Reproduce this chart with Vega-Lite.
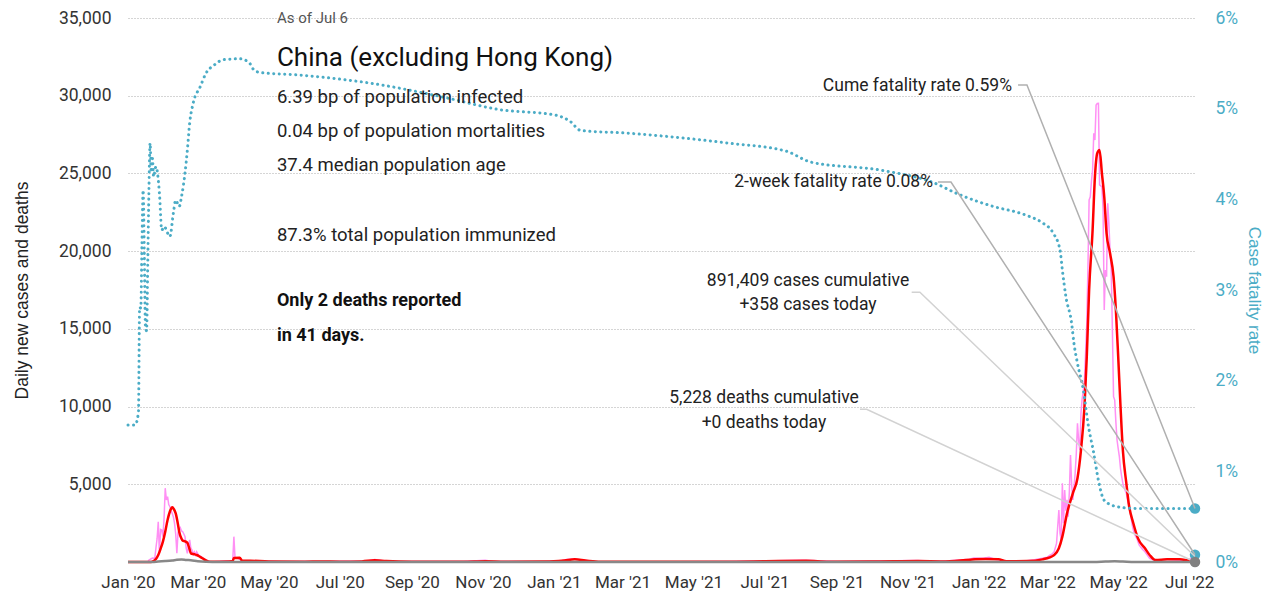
{
  "$schema": "https://vega.github.io/schema/vega-lite/v6.json",
  "width": 1067,
  "height": 544,
  "autosize": {"type": "none"},
  "padding": {"left": 128, "top": 18, "right": 76, "bottom": 41},
  "background": "white",
  "config": {
    "view": {"stroke": null},
    "font": "Roboto",
    "text": {"font": "Roboto"}
  },
  "datasets": {
    "daily": [
      {"date": "2020-01-01", "v": 0}, {"date": "2020-01-18", "v": 0}, {"date": "2020-01-19", "v": 130},
      {"date": "2020-01-22", "v": 250}, {"date": "2020-01-24", "v": 240}, {"date": "2020-01-25", "v": 900},
      {"date": "2020-01-26", "v": 1500}, {"date": "2020-01-27", "v": 2590}, {"date": "2020-01-28", "v": 560},
      {"date": "2020-01-29", "v": 2100}, {"date": "2020-01-30", "v": 2060}, {"date": "2020-01-31", "v": 1630},
      {"date": "2020-02-01", "v": 2800}, {"date": "2020-02-02", "v": 4750}, {"date": "2020-02-03", "v": 3990},
      {"date": "2020-02-04", "v": 4200}, {"date": "2020-02-05", "v": 3700}, {"date": "2020-02-06", "v": 3560},
      {"date": "2020-02-07", "v": 3300}, {"date": "2020-02-08", "v": 3130}, {"date": "2020-02-09", "v": 2900},
      {"date": "2020-02-10", "v": 2490}, {"date": "2020-02-11", "v": 1800}, {"date": "2020-02-12", "v": 560},
      {"date": "2020-02-13", "v": 1900}, {"date": "2020-02-14", "v": 2060}, {"date": "2020-02-15", "v": 2200},
      {"date": "2020-02-16", "v": 2000}, {"date": "2020-02-17", "v": 1950}, {"date": "2020-02-18", "v": 1800},
      {"date": "2020-02-19", "v": 1630}, {"date": "2020-02-20", "v": 900}, {"date": "2020-02-21", "v": 560},
      {"date": "2020-02-22", "v": 1100}, {"date": "2020-02-23", "v": 1420}, {"date": "2020-02-24", "v": 900},
      {"date": "2020-02-25", "v": 770}, {"date": "2020-02-26", "v": 500}, {"date": "2020-02-27", "v": 650},
      {"date": "2020-02-28", "v": 450}, {"date": "2020-02-29", "v": 660}, {"date": "2020-03-02", "v": 400},
      {"date": "2020-03-04", "v": 340}, {"date": "2020-03-06", "v": 200}, {"date": "2020-03-08", "v": 130},
      {"date": "2020-03-11", "v": 40}, {"date": "2020-03-15", "v": 20}, {"date": "2020-03-25", "v": 60},
      {"date": "2020-03-31", "v": 60}, {"date": "2020-04-01", "v": 1630}, {"date": "2020-04-02", "v": 240},
      {"date": "2020-04-04", "v": 250}, {"date": "2020-04-06", "v": 170}, {"date": "2020-04-08", "v": 80},
      {"date": "2020-04-20", "v": 60}, {"date": "2020-05-10", "v": 30}, {"date": "2020-06-14", "v": 40},
      {"date": "2020-07-25", "v": 60}, {"date": "2020-07-31", "v": 160}, {"date": "2020-08-06", "v": 90},
      {"date": "2020-08-20", "v": 30}, {"date": "2020-10-15", "v": 25}, {"date": "2020-11-03", "v": 120},
      {"date": "2020-11-10", "v": 40}, {"date": "2020-12-25", "v": 40}, {"date": "2021-01-08", "v": 90},
      {"date": "2021-01-13", "v": 180}, {"date": "2021-01-18", "v": 200}, {"date": "2021-01-24", "v": 150},
      {"date": "2021-02-05", "v": 40}, {"date": "2021-04-15", "v": 20}, {"date": "2021-06-01", "v": 30},
      {"date": "2021-08-03", "v": 110}, {"date": "2021-08-10", "v": 90}, {"date": "2021-09-01", "v": 30},
      {"date": "2021-11-08", "v": 90}, {"date": "2021-12-01", "v": 50}, {"date": "2021-12-24", "v": 180},
      {"date": "2021-12-28", "v": 250}, {"date": "2022-01-05", "v": 240}, {"date": "2022-01-10", "v": 300},
      {"date": "2022-01-15", "v": 180}, {"date": "2022-01-25", "v": 60}, {"date": "2022-02-10", "v": 70},
      {"date": "2022-02-18", "v": 140}, {"date": "2022-02-25", "v": 250}, {"date": "2022-03-01", "v": 300},
      {"date": "2022-03-03", "v": 420}, {"date": "2022-03-05", "v": 500}, {"date": "2022-03-07", "v": 660},
      {"date": "2022-03-09", "v": 1200}, {"date": "2022-03-11", "v": 3350}, {"date": "2022-03-12", "v": 1850},
      {"date": "2022-03-13", "v": 1400}, {"date": "2022-03-14", "v": 5060}, {"date": "2022-03-15", "v": 2500},
      {"date": "2022-03-16", "v": 4630}, {"date": "2022-03-17", "v": 3300}, {"date": "2022-03-18", "v": 4000},
      {"date": "2022-03-19", "v": 2920}, {"date": "2022-03-20", "v": 4500}, {"date": "2022-03-21", "v": 6880},
      {"date": "2022-03-22", "v": 5000}, {"date": "2022-03-23", "v": 3990}, {"date": "2022-03-24", "v": 4800},
      {"date": "2022-03-25", "v": 5710}, {"date": "2022-03-26", "v": 7000}, {"date": "2022-03-27", "v": 8920},
      {"date": "2022-03-28", "v": 7800}, {"date": "2022-03-29", "v": 7200}, {"date": "2022-03-30", "v": 9570},
      {"date": "2022-03-31", "v": 10500}, {"date": "2022-04-01", "v": 11000}, {"date": "2022-04-02", "v": 11710},
      {"date": "2022-04-03", "v": 13500}, {"date": "2022-04-04", "v": 15360}, {"date": "2022-04-05", "v": 19000},
      {"date": "2022-04-06", "v": 23290}, {"date": "2022-04-07", "v": 23500}, {"date": "2022-04-08", "v": 24500},
      {"date": "2022-04-09", "v": 25220}, {"date": "2022-04-10", "v": 27580}, {"date": "2022-04-11", "v": 27150},
      {"date": "2022-04-12", "v": 29400}, {"date": "2022-04-13", "v": 29500}, {"date": "2022-04-14", "v": 29510},
      {"date": "2022-04-15", "v": 24260}, {"date": "2022-04-16", "v": 24200}, {"date": "2022-04-17", "v": 24150},
      {"date": "2022-04-18", "v": 22650}, {"date": "2022-04-19", "v": 16210}, {"date": "2022-04-20", "v": 18790},
      {"date": "2022-04-21", "v": 18360}, {"date": "2022-04-22", "v": 23080}, {"date": "2022-04-23", "v": 21790},
      {"date": "2022-04-24", "v": 20000}, {"date": "2022-04-25", "v": 18790}, {"date": "2022-04-26", "v": 14930},
      {"date": "2022-04-27", "v": 10640}, {"date": "2022-04-28", "v": 10420}, {"date": "2022-04-29", "v": 9000},
      {"date": "2022-04-30", "v": 7850}, {"date": "2022-05-01", "v": 7300}, {"date": "2022-05-02", "v": 6780},
      {"date": "2022-05-03", "v": 6000}, {"date": "2022-05-04", "v": 5500}, {"date": "2022-05-05", "v": 5060},
      {"date": "2022-05-06", "v": 4800}, {"date": "2022-05-07", "v": 4600}, {"date": "2022-05-08", "v": 4420},
      {"date": "2022-05-09", "v": 4000}, {"date": "2022-05-10", "v": 3700}, {"date": "2022-05-11", "v": 3350},
      {"date": "2022-05-12", "v": 2900}, {"date": "2022-05-13", "v": 2400}, {"date": "2022-05-14", "v": 2060},
      {"date": "2022-05-15", "v": 1800}, {"date": "2022-05-16", "v": 1650}, {"date": "2022-05-17", "v": 1520},
      {"date": "2022-05-18", "v": 1300}, {"date": "2022-05-19", "v": 1100}, {"date": "2022-05-20", "v": 990},
      {"date": "2022-05-22", "v": 800}, {"date": "2022-05-24", "v": 660}, {"date": "2022-05-26", "v": 450},
      {"date": "2022-05-28", "v": 240}, {"date": "2022-05-31", "v": 150}, {"date": "2022-06-05", "v": 120},
      {"date": "2022-06-10", "v": 180}, {"date": "2022-06-15", "v": 150}, {"date": "2022-06-20", "v": 130},
      {"date": "2022-06-25", "v": 110}, {"date": "2022-06-30", "v": 150}, {"date": "2022-07-03", "v": 250},
      {"date": "2022-07-05", "v": 400}, {"date": "2022-07-06", "v": 358}
    ],
    "avg": [
      {"date": "2020-01-01", "v": 0}, {"date": "2020-01-21", "v": 0}, {"date": "2020-01-22", "v": 30},
      {"date": "2020-01-25", "v": 200}, {"date": "2020-01-27", "v": 450}, {"date": "2020-01-29", "v": 850},
      {"date": "2020-01-31", "v": 1310}, {"date": "2020-02-02", "v": 1950}, {"date": "2020-02-04", "v": 2700},
      {"date": "2020-02-06", "v": 3250}, {"date": "2020-02-08", "v": 3519}, {"date": "2020-02-09", "v": 3450},
      {"date": "2020-02-11", "v": 3130}, {"date": "2020-02-13", "v": 2400}, {"date": "2020-02-14", "v": 1950},
      {"date": "2020-02-16", "v": 1500}, {"date": "2020-02-17", "v": 1370}, {"date": "2020-02-19", "v": 1330},
      {"date": "2020-02-21", "v": 1240}, {"date": "2020-02-23", "v": 800}, {"date": "2020-02-24", "v": 560},
      {"date": "2020-02-27", "v": 500}, {"date": "2020-02-29", "v": 450}, {"date": "2020-03-03", "v": 330},
      {"date": "2020-03-05", "v": 240}, {"date": "2020-03-08", "v": 100}, {"date": "2020-03-11", "v": 20},
      {"date": "2020-03-28", "v": 40}, {"date": "2020-03-31", "v": 60}, {"date": "2020-04-01", "v": 257},
      {"date": "2020-04-06", "v": 277}, {"date": "2020-04-08", "v": 85}, {"date": "2020-04-15", "v": 80},
      {"date": "2020-05-01", "v": 40}, {"date": "2020-06-01", "v": 20}, {"date": "2020-06-15", "v": 35},
      {"date": "2020-07-01", "v": 20}, {"date": "2020-07-20", "v": 40}, {"date": "2020-07-31", "v": 110},
      {"date": "2020-08-10", "v": 60}, {"date": "2020-09-01", "v": 20}, {"date": "2020-10-15", "v": 20},
      {"date": "2020-11-03", "v": 50}, {"date": "2020-11-20", "v": 20}, {"date": "2020-12-25", "v": 30},
      {"date": "2021-01-10", "v": 100}, {"date": "2021-01-19", "v": 170}, {"date": "2021-01-28", "v": 100},
      {"date": "2021-02-10", "v": 20}, {"date": "2021-05-01", "v": 15}, {"date": "2021-06-01", "v": 20},
      {"date": "2021-08-06", "v": 80}, {"date": "2021-08-25", "v": 20}, {"date": "2021-10-01", "v": 25},
      {"date": "2021-11-10", "v": 60}, {"date": "2021-12-01", "v": 40}, {"date": "2021-12-25", "v": 150},
      {"date": "2022-01-07", "v": 200}, {"date": "2022-01-18", "v": 170}, {"date": "2022-01-25", "v": 50},
      {"date": "2022-02-12", "v": 60}, {"date": "2022-02-25", "v": 170}, {"date": "2022-03-07", "v": 450},
      {"date": "2022-03-11", "v": 880}, {"date": "2022-03-14", "v": 1630}, {"date": "2022-03-18", "v": 3130},
      {"date": "2022-03-23", "v": 4420}, {"date": "2022-03-27", "v": 5390}, {"date": "2022-03-30", "v": 7200},
      {"date": "2022-04-02", "v": 9990}, {"date": "2022-04-04", "v": 13210}, {"date": "2022-04-06", "v": 17500},
      {"date": "2022-04-09", "v": 21360}, {"date": "2022-04-11", "v": 24790}, {"date": "2022-04-13", "v": 26300},
      {"date": "2022-04-15", "v": 26510}, {"date": "2022-04-17", "v": 25010}, {"date": "2022-04-19", "v": 23500},
      {"date": "2022-04-21", "v": 21150}, {"date": "2022-04-24", "v": 19860}, {"date": "2022-04-27", "v": 18360},
      {"date": "2022-04-29", "v": 16210}, {"date": "2022-05-01", "v": 13210}, {"date": "2022-05-03", "v": 9990},
      {"date": "2022-05-05", "v": 7200}, {"date": "2022-05-08", "v": 5060}, {"date": "2022-05-10", "v": 3780},
      {"date": "2022-05-14", "v": 2490}, {"date": "2022-05-18", "v": 1520}, {"date": "2022-05-24", "v": 880},
      {"date": "2022-05-28", "v": 450}, {"date": "2022-06-02", "v": 130}, {"date": "2022-06-12", "v": 170},
      {"date": "2022-06-23", "v": 170}, {"date": "2022-07-02", "v": 85}, {"date": "2022-07-06", "v": 200}
    ],
    "deaths": [
      {"date": "2020-01-01", "v": 0}, {"date": "2020-01-22", "v": 0}, {"date": "2020-01-27", "v": 30},
      {"date": "2020-02-02", "v": 60}, {"date": "2020-02-08", "v": 100}, {"date": "2020-02-12", "v": 140},
      {"date": "2020-02-16", "v": 160}, {"date": "2020-02-20", "v": 130}, {"date": "2020-02-24", "v": 110},
      {"date": "2020-03-01", "v": 50}, {"date": "2020-03-08", "v": 20}, {"date": "2020-03-20", "v": 5},
      {"date": "2020-04-15", "v": 0}, {"date": "2022-04-10", "v": 0}, {"date": "2022-04-20", "v": 30},
      {"date": "2022-04-28", "v": 50}, {"date": "2022-05-05", "v": 30}, {"date": "2022-05-15", "v": 0},
      {"date": "2022-07-06", "v": 0}
    ],
    "cfr": [
      {"date": "2020-01-01", "v": 0.0151}, {"date": "2020-01-07", "v": 0.0151}, {"date": "2020-01-10", "v": 0.0165},
      {"date": "2020-01-11", "v": 0.0281}, {"date": "2020-01-12", "v": 0.028}, {"date": "2020-01-13", "v": 0.035},
      {"date": "2020-01-14", "v": 0.041}, {"date": "2020-01-15", "v": 0.034}, {"date": "2020-01-16", "v": 0.026},
      {"date": "2020-01-17", "v": 0.0255}, {"date": "2020-01-18", "v": 0.033}, {"date": "2020-01-19", "v": 0.041},
      {"date": "2020-01-20", "v": 0.0462}, {"date": "2020-01-21", "v": 0.043}, {"date": "2020-01-22", "v": 0.0445},
      {"date": "2020-01-23", "v": 0.0425}, {"date": "2020-01-25", "v": 0.0436}, {"date": "2020-01-28", "v": 0.0407},
      {"date": "2020-01-30", "v": 0.0366}, {"date": "2020-02-01", "v": 0.037}, {"date": "2020-02-06", "v": 0.0359},
      {"date": "2020-02-09", "v": 0.0385}, {"date": "2020-02-11", "v": 0.0399}, {"date": "2020-02-14", "v": 0.0392},
      {"date": "2020-02-16", "v": 0.0403}, {"date": "2020-02-19", "v": 0.0429}, {"date": "2020-02-21", "v": 0.0454},
      {"date": "2020-02-23", "v": 0.0484}, {"date": "2020-02-26", "v": 0.0506}, {"date": "2020-03-03", "v": 0.0524},
      {"date": "2020-03-08", "v": 0.0539}, {"date": "2020-03-15", "v": 0.0548}, {"date": "2020-03-23", "v": 0.0554},
      {"date": "2020-04-06", "v": 0.0555}, {"date": "2020-04-14", "v": 0.0551}, {"date": "2020-04-18", "v": 0.0543},
      {"date": "2020-04-23", "v": 0.054}, {"date": "2020-05-28", "v": 0.0537}, {"date": "2020-07-05", "v": 0.0532},
      {"date": "2020-07-28", "v": 0.0528}, {"date": "2020-09-27", "v": 0.0513}, {"date": "2020-11-15", "v": 0.0499},
      {"date": "2021-01-02", "v": 0.0493}, {"date": "2021-01-15", "v": 0.0486}, {"date": "2021-01-24", "v": 0.0476},
      {"date": "2021-03-05", "v": 0.0473}, {"date": "2021-05-31", "v": 0.0462}, {"date": "2021-07-20", "v": 0.0453},
      {"date": "2021-08-10", "v": 0.0441}, {"date": "2021-10-10", "v": 0.0432}, {"date": "2021-11-22", "v": 0.0419},
      {"date": "2021-12-16", "v": 0.0405}, {"date": "2022-01-14", "v": 0.0392}, {"date": "2022-02-05", "v": 0.0385},
      {"date": "2022-02-14", "v": 0.0381}, {"date": "2022-02-25", "v": 0.0374}, {"date": "2022-03-06", "v": 0.0363},
      {"date": "2022-03-12", "v": 0.0344}, {"date": "2022-03-14", "v": 0.0322}, {"date": "2022-03-17", "v": 0.0293},
      {"date": "2022-03-22", "v": 0.0263}, {"date": "2022-03-24", "v": 0.0241}, {"date": "2022-03-27", "v": 0.0219},
      {"date": "2022-04-01", "v": 0.019}, {"date": "2022-04-05", "v": 0.0153}, {"date": "2022-04-10", "v": 0.012},
      {"date": "2022-04-14", "v": 0.009}, {"date": "2022-04-19", "v": 0.0068}, {"date": "2022-04-30", "v": 0.0061},
      {"date": "2022-05-17", "v": 0.0059}, {"date": "2022-07-06", "v": 0.0059}
    ],
    "cfrEnd": [
      {"date": "2022-07-06", "v": 0.0008},
      {"date": "2022-07-06", "v": 0.0059}
    ],
    "deathEnd": [
      {"date": "2022-07-06", "v": 0}
    ],
    "rateLinks": [
      {"id": "cume", "date": "2022-02-03T22:00:00Z", "v": 30690},
      {"id": "cume", "date": "2022-02-11T14:00:00Z", "v": 30690},
      {"id": "cume", "date": "2022-07-06", "v": 3442},
      {"id": "twoweek", "date": "2021-11-27T02:00:00Z", "v": 24449},
      {"id": "twoweek", "date": "2021-12-08T07:00:00Z", "v": 24449},
      {"id": "twoweek", "date": "2022-07-06", "v": 467}
    ],
    "countLinks": [
      {"id": "cases", "date": "2021-11-04T12:00:00Z", "v": 17353},
      {"id": "cases", "date": "2021-11-11T14:00:00Z", "v": 17353},
      {"id": "cases", "date": "2022-07-06", "v": 358},
      {"id": "deaths", "date": "2021-09-21T02:00:00Z", "v": 9825},
      {"id": "deaths", "date": "2021-09-26T19:00:00Z", "v": 9825},
      {"id": "deaths", "date": "2022-07-06", "v": 0}
    ],
    "asof": [{"date": "2020-05-08", "v": 35000, "label": "As of Jul 6"}],
    "headline": [{"date": "2020-05-08", "v": 32427, "label": "China (excluding Hong Kong)"}],
    "stats": [
      {"date": "2020-05-08", "v": 29918, "label": "6.39 bp of population infected"},
      {"date": "2020-05-08", "v": 27731, "label": "0.04 bp of population mortalities"},
      {"date": "2020-05-08", "v": 25543, "label": "37.4 median population age"},
      {"date": "2020-05-08", "v": 21039, "label": "87.3% total population immunized"}
    ],
    "alert": [
      {"date": "2020-05-08", "v": 16793, "label": "Only 2 deaths reported"},
      {"date": "2020-05-08", "v": 14541, "label": "in 41 days."}
    ],
    "rateNotes": [
      {"date": "2022-01-29T17:00:00Z", "v": 30626, "label": "Cume fatality rate 0.59%"},
      {"date": "2021-11-22T19:00:00Z", "v": 24449, "label": "2-week fatality rate 0.08%"}
    ],
    "countNotes": [
      {"date": "2021-08-07T10:00:00Z", "v": 18080, "label": "891,409 cases cumulative"},
      {"date": "2021-08-07T10:00:00Z", "v": 16535, "label": "+358 cases today"},
      {"date": "2021-06-30T14:00:00Z", "v": 10552, "label": "5,228 deaths cumulative"},
      {"date": "2021-06-30T14:00:00Z", "v": 8943, "label": "+0 deaths today"}
    ]
  },
  "encoding": {
    "x": {
      "field": "date",
      "type": "temporal",
      "scale": {"type": "utc", "domain": [1577836800000, 1657065600000]},
      "axis": {
        "title": null,
        "tickCount": {"interval": "month", "step": 2},
        "format": "%b '%y",
        "grid": false,
        "domain": false,
        "ticks": false,
        "labelPadding": 12,
        "labelFontSize": 17,
        "labelColor": "#333333",
        "labelFont": "Roboto",
        "labelFlush": false,
        "labelOverlap": false
      }
    }
  },
  "layer": [
    {
      "encoding": {
        "y": {
          "field": "v",
          "type": "quantitative",
          "scale": {"domain": [0, 35000], "nice": false, "zero": true},
          "axis": {
            "title": "Daily new cases and deaths",
            "titleFont": "Liberation Sans",
            "titleFontSize": 17.5,
            "titleFontWeight": "normal",
            "titleColor": "#222222",
            "titlePadding": 27,
            "values": [5000, 10000, 15000, 20000, 25000, 30000, 35000],
            "format": ",.0f",
            "grid": true,
            "gridDash": [1, 2],
            "gridColor": "#aaaaaa",
            "gridWidth": 1,
            "domain": false,
            "ticks": false,
            "labelPadding": 17,
            "labelFontSize": 17.5,
            "labelFont": "Roboto",
            "labelColor": "#333333"
          }
        }
      },
      "layer": [
        {
          "data": {"name": "daily"},
          "mark": {"type": "line", "stroke": "#ff90f4", "strokeWidth": 1.5},
          "encoding": {}
        },
        {
          "data": {"name": "avg"},
          "mark": {"type": "line", "stroke": "#ff0000", "strokeWidth": 2.5, "interpolate": "monotone"},
          "encoding": {}
        },
        {
          "data": {"name": "deaths"},
          "mark": {"type": "line", "stroke": "#888888", "strokeWidth": 2.5, "interpolate": "monotone"},
          "encoding": {}
        }
      ]
    },
    {
      "encoding": {
        "y": {
          "field": "v",
          "type": "quantitative",
          "scale": {"domain": [0, 0.06], "nice": false, "zero": true},
          "axis": {
            "orient": "right",
            "title": "Case fatality rate",
            "titleFont": "Liberation Sans",
            "titleFontSize": 17,
            "titleFontWeight": "normal",
            "titleColor": "#4bacc6",
            "titleAngle": 90,
            "titlePadding": 7,
            "values": [0, 0.01, 0.02, 0.03, 0.04, 0.05, 0.06],
            "format": ".0%",
            "grid": false,
            "domain": false,
            "ticks": false,
            "labelPadding": 20,
            "labelFontSize": 17.5,
            "labelFont": "Roboto",
            "labelColor": "#4bacc6"
          }
        }
      },
      "layer": [
        {
          "data": {"name": "cfr"},
          "mark": {"type": "line", "stroke": "#4bacc6", "strokeWidth": 3, "strokeDash": [0.1, 5.4], "strokeCap": "round", "interpolate": "monotone"},
          "encoding": {}
        },
        {
          "data": {"name": "cfrEnd"},
          "mark": {"type": "circle", "color": "#4bacc6", "opacity": 1, "size": 110},
          "encoding": {}
        }
      ]
    },
    {
      "encoding": {
        "y": {
          "field": "v",
          "type": "quantitative",
          "scale": {"domain": [0, 35000], "nice": false, "zero": true},
          "axis": null
        }
      },
      "layer": [
        {
          "data": {"name": "rateLinks"},
          "mark": {"type": "line", "stroke": "#b0b0b0", "strokeWidth": 1.5},
          "encoding": {"detail": {"field": "id", "type": "nominal"}}
        },
        {
          "data": {"name": "countLinks"},
          "mark": {"type": "line", "stroke": "#d2d2d2", "strokeWidth": 1.5},
          "encoding": {"detail": {"field": "id", "type": "nominal"}}
        },
        {
          "data": {"name": "deathEnd"},
          "mark": {"type": "circle", "color": "#808080", "opacity": 1, "size": 110},
          "encoding": {}
        },
        {
          "data": {"name": "asof"},
          "mark": {"type": "text", "align": "left", "baseline": "middle", "fontSize": 15, "color": "#555555"},
          "encoding": {"text": {"field": "label"}}
        },
        {
          "data": {"name": "headline"},
          "mark": {"type": "text", "align": "left", "baseline": "middle", "fontSize": 26, "color": "#111111"},
          "encoding": {"text": {"field": "label"}}
        },
        {
          "data": {"name": "stats"},
          "mark": {"type": "text", "align": "left", "baseline": "middle", "fontSize": 18.5, "color": "#222222"},
          "encoding": {"text": {"field": "label"}}
        },
        {
          "data": {"name": "alert"},
          "mark": {"type": "text", "align": "left", "baseline": "middle", "fontSize": 18, "fontWeight": "bold", "color": "#111111"},
          "encoding": {"text": {"field": "label"}}
        },
        {
          "data": {"name": "rateNotes"},
          "mark": {"type": "text", "align": "right", "baseline": "middle", "fontSize": 17.5, "color": "#222222"},
          "encoding": {"text": {"field": "label"}}
        },
        {
          "data": {"name": "countNotes"},
          "mark": {"type": "text", "align": "center", "baseline": "middle", "fontSize": 17.5, "color": "#222222"},
          "encoding": {"text": {"field": "label"}}
        }
      ]
    }
  ],
  "resolve": {"scale": {"y": "independent"}}
}
